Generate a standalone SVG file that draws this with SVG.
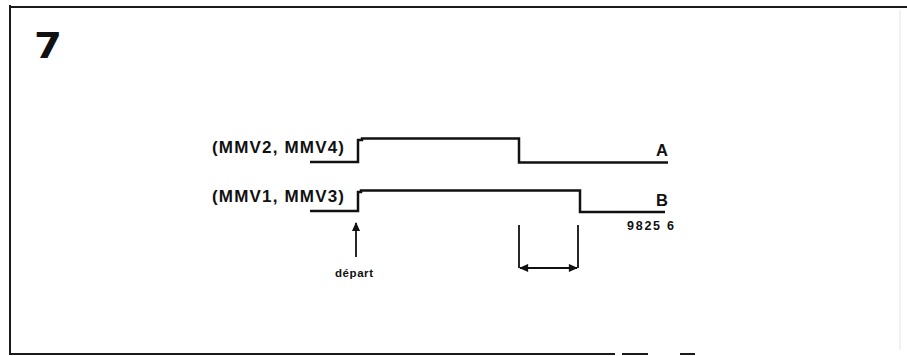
<svg xmlns="http://www.w3.org/2000/svg" width="907" height="356" viewBox="0 0 907 356">
<style>
.frame{stroke:#1a1a1a;stroke-width:2;fill:none}
.wave{stroke:#111;stroke-width:2.5;fill:none;stroke-linejoin:miter}
.thin{stroke:#111;stroke-width:1.8;fill:none}
.lbl{font-family:"Liberation Sans",Arial,sans-serif;font-weight:bold;fill:#111}
</style>
<defs>
<marker id="ah" viewBox="0 0 10 10" refX="9" refY="5" markerWidth="6.5" markerHeight="5" orient="auto-start-reverse" markerUnits="strokeWidth">
<path d="M0,0.5 L10,5 L0,9.5 Z" fill="#111"/>
</marker>
</defs>
<rect width="907" height="356" fill="#fff"/>
<g id="frame">
<path class="frame" d="M9 7 H907"/>
<path class="frame" d="M10 5 V355"/>
<path class="frame" d="M10 354 H615 M622 354 H648 M680 354 H695"/>
<path d="M900 10 V350" stroke="#ececec" stroke-width="1.5"/>
<text x="0" y="0" transform="translate(34 58) scale(1.15 1)" style="font-family:'DejaVu Sans',sans-serif;font-size:35px;font-weight:bold;fill:#111">7</text>
</g>
<g id="waveA">
<path class="wave" d="M310 162 H358 V140 H362 V138.5 H519 V162.5 H668"/>
<text class="lbl" x="212" y="153" font-size="17" textLength="132" lengthAdjust="spacing">(MMV2, MMV4)</text>
<text class="lbl" x="656" y="156" font-size="16.5">A</text>
</g>
<g id="waveB">
<path class="wave" d="M310 211 H358 V192 H361 V190.5 H580 V212 H665"/>
<text class="lbl" x="212" y="202" font-size="17" textLength="132" lengthAdjust="spacing">(MMV1, MMV3)</text>
<text class="lbl" x="656" y="206" font-size="16.5">B</text>
<text class="lbl" x="627" y="230" font-size="12.5" textLength="47" lengthAdjust="spacing">9825 6</text>
</g>
<g id="depart">
<text class="lbl" x="335" y="277" font-size="11.5" textLength="38" lengthAdjust="spacing">départ</text>
</g>
<g id="connectors">
<path class="thin" d="M356 257 V223" marker-end="url(#ah)"/>
<path class="thin" d="M519 225 V268 M578 225 V268"/>
<path class="thin" d="M520 268 H577" marker-start="url(#ah)" marker-end="url(#ah)"/>
</g>
</svg>
